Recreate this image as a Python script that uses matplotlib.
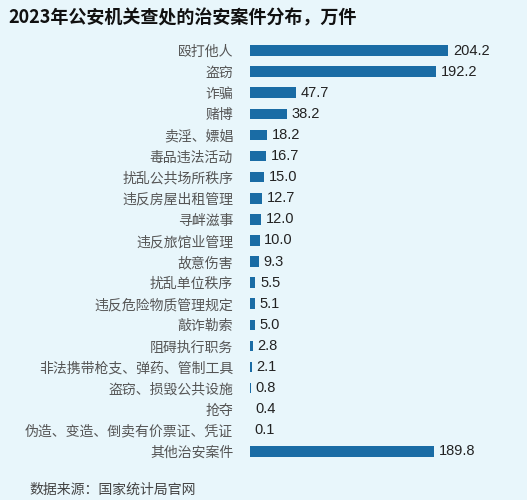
import matplotlib.pyplot as plt

plt.rcParams['font.family'] = ['Noto Sans CJK SC', 'DejaVu Sans']

categories = ['殴打他人', '盗窃', '诈骗', '赌博', '卖淫、嫖娼', '毒品违法活动', '扰乱公共场所秩序',
              '违反房屋出租管理', '寻衅滋事', '违反旅馆业管理', '故意伤害', '扰乱单位秩序',
              '违反危险物质管理规定', '敲诈勒索', '阻碍执行职务', '非法携带枪支、弹药、管制工具',
              '盗窃、损毁公共设施', '抢夺', '伪造、变造、倒卖有价票证、凭证', '其他治安案件']
values = [204.2, 192.2, 47.7, 38.2, 18.2, 16.7, 15.0, 12.7, 12.0, 10.0, 9.3, 5.5,
          5.1, 5.0, 2.8, 2.1, 0.8, 0.4, 0.1, 189.8]

bg = '#e8f6fb'
fig = plt.figure(figsize=(5.27, 5.0), dpi=100, facecolor=bg)
ax = fig.add_axes([0.474, 0.076, 0.51, 0.844], facecolor=bg)

y = list(range(len(categories)))
ax.barh(y, values, height=0.5, color='#1a6ca5')
for yi, v in zip(y, values):
    ax.text(v + 5, yi, f'{v:.1f}', va='center', ha='left', fontsize=10.5, color='#222222',
            family=['Liberation Sans'])
ax.set_yticks(y)
ax.set_yticklabels(categories, fontsize=10, color='#555555')
ax.tick_params(axis='y', length=0, pad=12)
ax.set_xticks([])
ax.set_xlim(0, 277)
ax.set_ylim(len(categories) - 0.5, -0.5)
for s in ax.spines.values():
    s.set_visible(False)

fig.text(0.015, 0.965, '2023年公安机关查处的治安案件分布，万件', fontsize=13, color='#111111',
         va='center', fontweight='bold')
fig.text(0.055, 0.02, '数据来源：国家统计局官网', fontsize=10, color='#444444', va='center')

fig.savefig('out.png', dpi=100, facecolor=bg)
